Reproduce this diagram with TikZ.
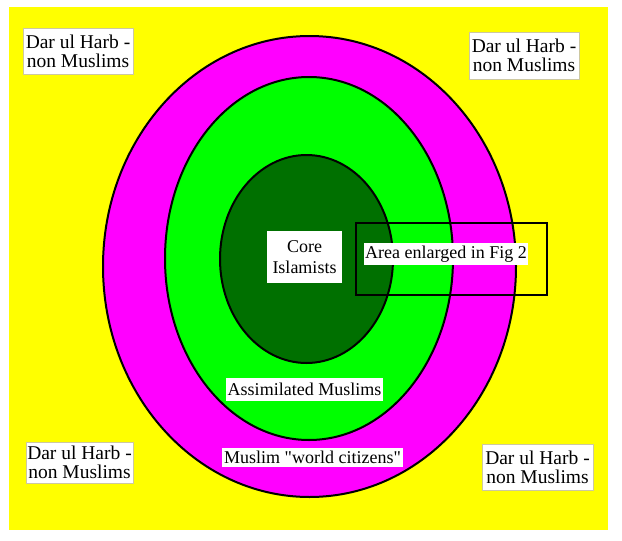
\documentclass[tikz,border=0pt]{standalone}
\usepackage{fontspec}
\setmainfont{Liberation Serif}[Ligatures=TeXOff]
\definecolor{bgyellow}{RGB}{255,255,0}
\definecolor{outermag}{RGB}{255,0,255}
\definecolor{midgreen}{RGB}{0,255,0}
\definecolor{coregreen}{RGB}{0,112,0}
\definecolor{boxedge}{RGB}{205,200,160}
\tikzset{
  lbl/.style={fill=white, inner sep=0pt, align=center, font=\fontsize{18}{21}\selectfont},
  harb/.style={fill=white, draw=boxedge, line width=0.6pt, inner sep=0pt, align=center, font=\fontsize{19.5}{19}\selectfont},
  ring/.style={draw=black, line width=2pt}
}
\begin{document}
\begin{tikzpicture}[x=1pt,y=-1pt]
\useasboundingbox (0,0) rectangle (622,541);
\fill[white] (0,0) rectangle (622,541);
\fill[bgyellow] (9,7) rectangle (608,530);
\filldraw[ring, fill=outermag] (309.5,266.5) ellipse [x radius=206.5pt, y radius=230.5pt];
\filldraw[ring, fill=midgreen] (309,258.5) ellipse [x radius=144pt, y radius=181.5pt];
\filldraw[ring, fill=coregreen] (306.5,259) ellipse [x radius=86.5pt, y radius=104pt];
\node[lbl, minimum width=75pt, minimum height=52pt] (core) at (304.5,257) {Core\\Islamists};
\node[lbl, minimum width=164pt, minimum height=22pt] (area) at (446,254) {Area enlarged in Fig 2};
\node[lbl, minimum width=157pt, minimum height=23pt] (assim) at (304.5,389.5) {Assimilated Muslims};
\node[lbl, minimum width=181pt, minimum height=19pt] (world) at (312.5,457.5) {Muslim "world citizens"};
\node[harb, minimum width=110pt, minimum height=46pt] (tl) at (78,51) {Dar ul Harb -\\non Muslims};
\node[harb, minimum width=110pt, minimum height=47pt] (tr) at (524,55.5) {Dar ul Harb -\\non Muslims};
\node[harb, minimum width=107pt, minimum height=41pt] (bl) at (79.5,462.5) {Dar ul Harb -\\non Muslims};
\node[harb, minimum width=111pt, minimum height=46pt] (br) at (537.5,467) {Dar ul Harb -\\non Muslims};
\draw[line width=2.2pt] (356,223) rectangle (547,295);
\end{tikzpicture}
\end{document}
